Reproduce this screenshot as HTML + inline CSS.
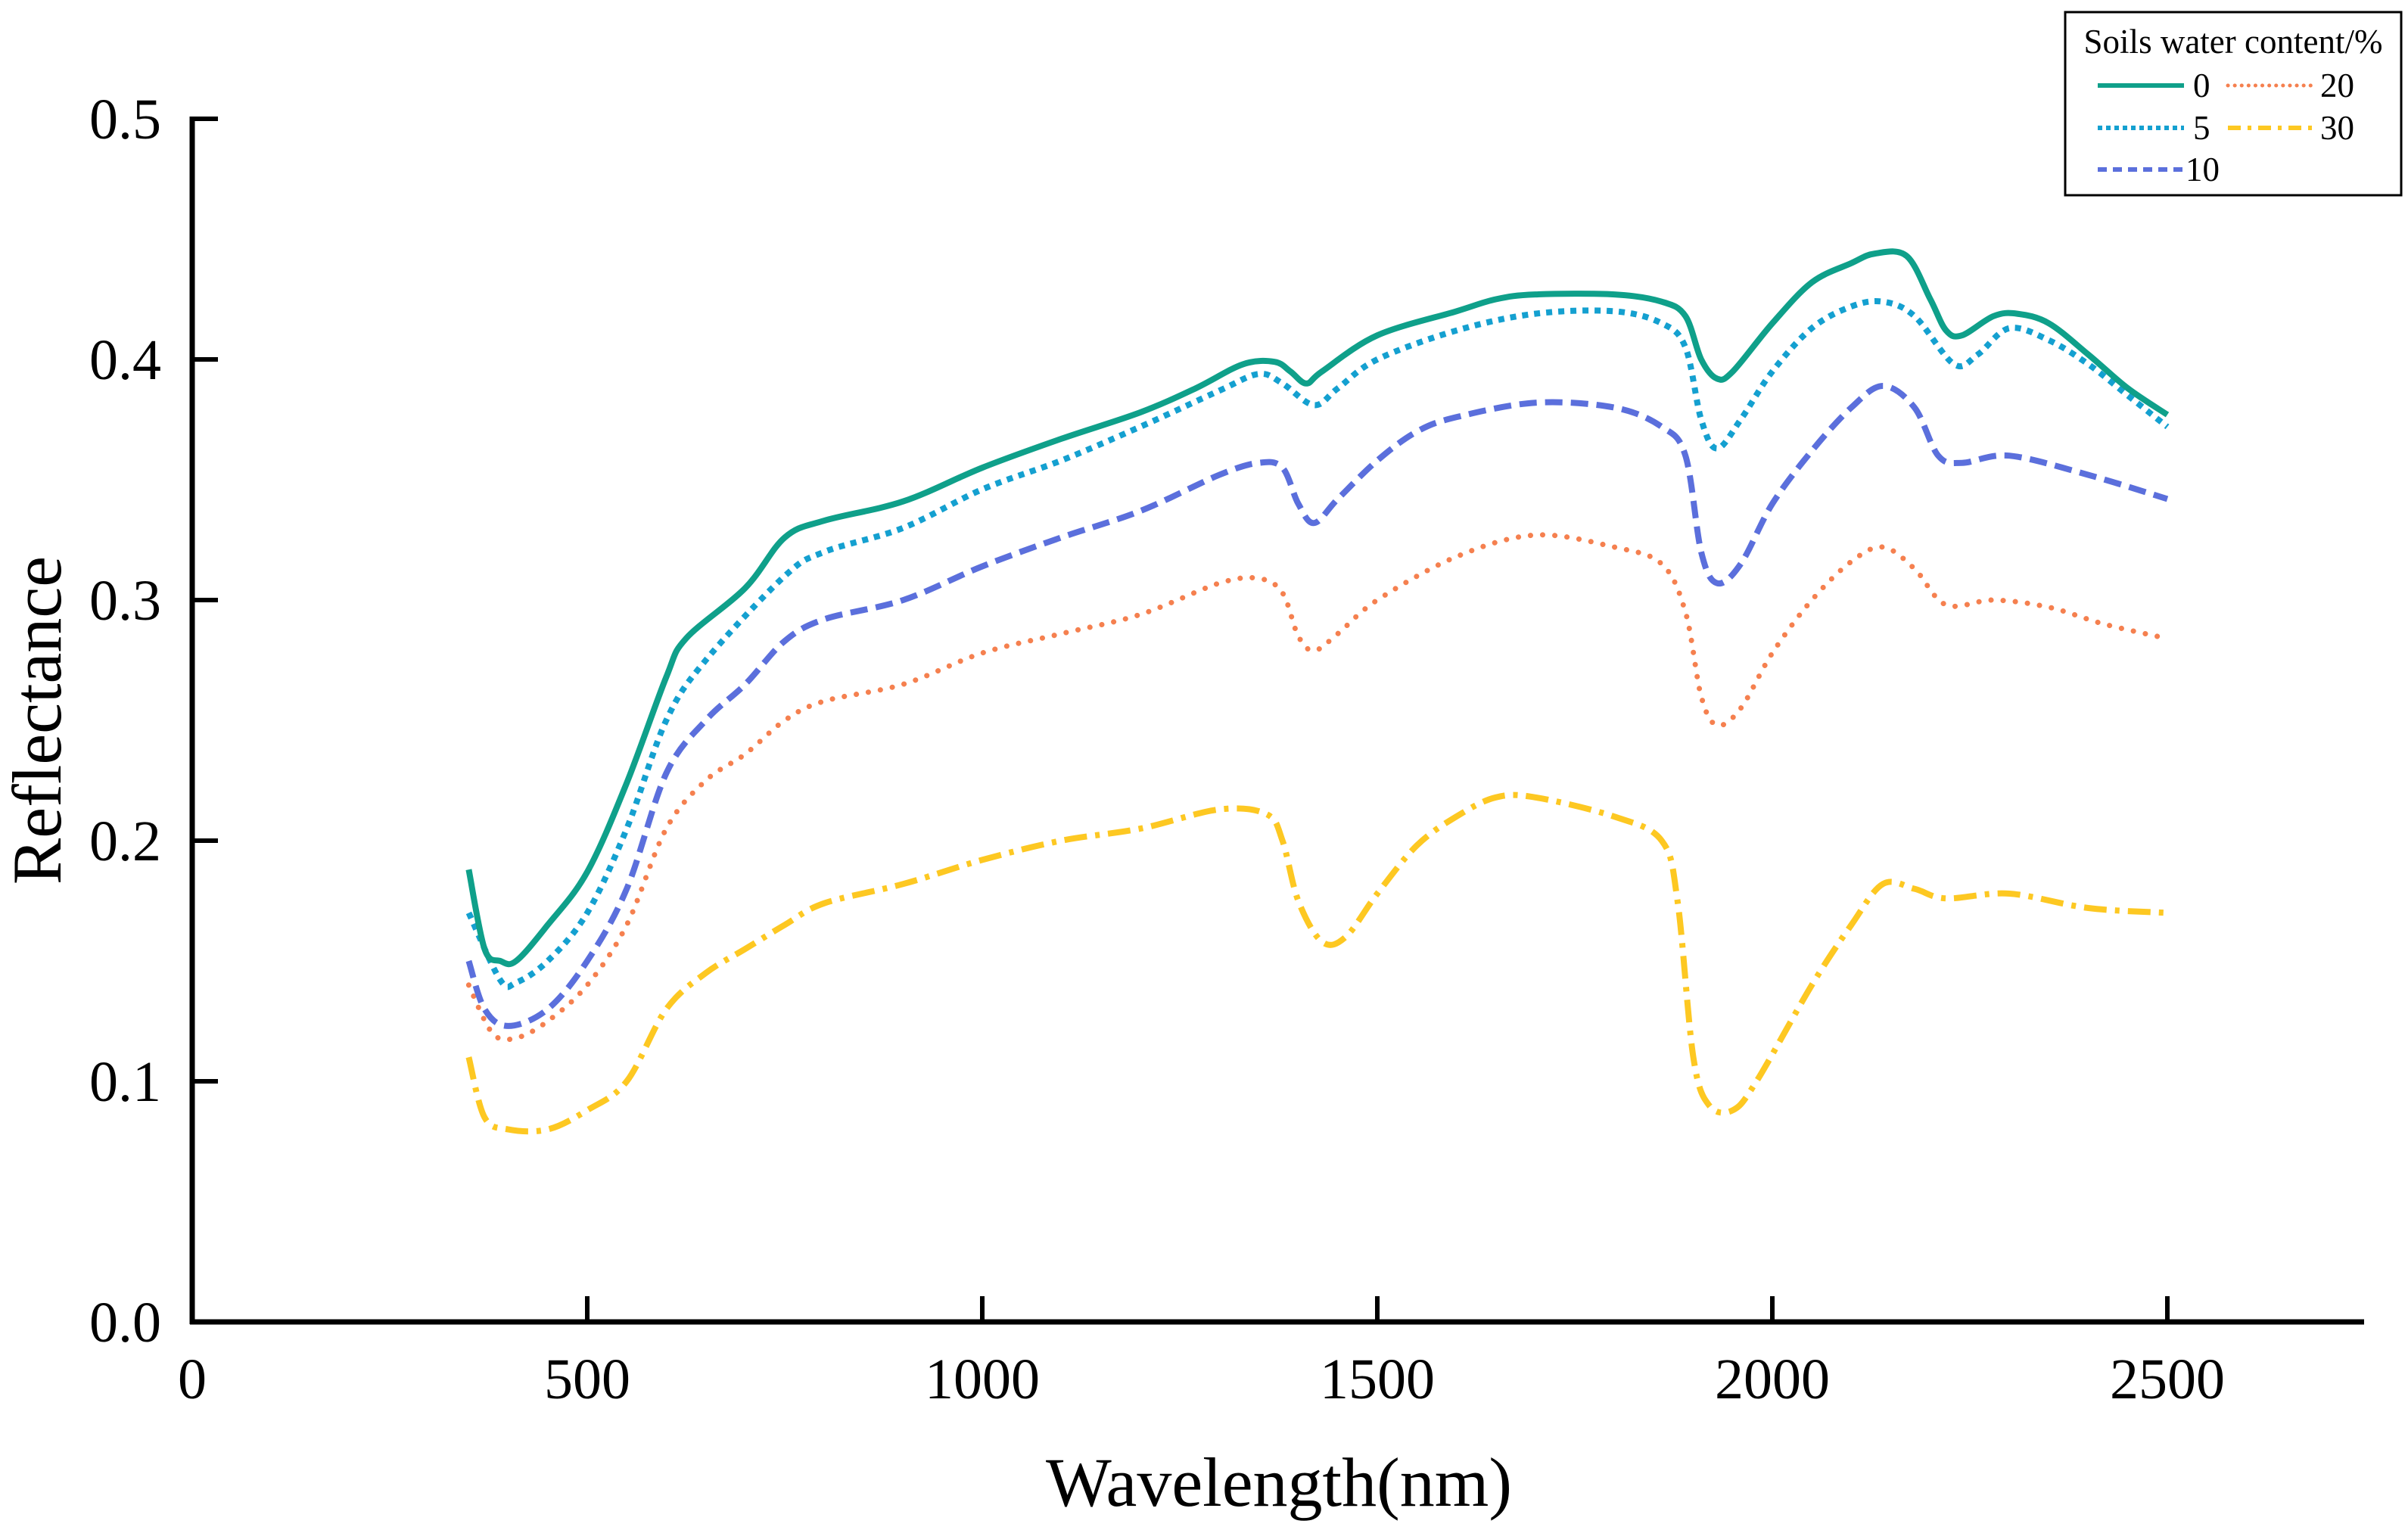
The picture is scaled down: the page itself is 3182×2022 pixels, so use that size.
<!DOCTYPE html>
<html><head><meta charset="utf-8">
<style>
html,body{margin:0;padding:0;background:#fff;}
svg{display:block;font-family:"Liberation Serif",serif;}
</style></head>
<body>
<svg id="chart" width="3182" height="2022" viewBox="0 0 3182 2022" xmlns="http://www.w3.org/2000/svg">
<g id="plot"></g>
<g id="axes"></g>
<text x="1690" y="1990" font-size="92" text-anchor="middle">Wavelength(nm)</text>
<text transform="translate(80,952) rotate(-90)" font-size="92" text-anchor="middle">Reflectance</text>
<g>
<rect x="2729" y="16" width="444" height="242" fill="#fff" stroke="#000" stroke-width="3"/>
<text x="2951" y="70" font-size="45" text-anchor="middle">Soils water content/%</text>
<g><line x1="2772" y1="113" x2="2886" y2="113" stroke="#0fa08a" stroke-width="6"/><text x="2898" y="128" font-size="45">0</text></g>
<g><line x1="2772" y1="169" x2="2886" y2="169" stroke="#14a0d0" stroke-width="6" stroke-dasharray="6,5"/><text x="2898" y="184" font-size="45">5</text></g>
<g><line x1="2772" y1="224" x2="2886" y2="224" stroke="#5b6fdc" stroke-width="6" stroke-dasharray="12,8"/><text x="2888" y="239" font-size="45">10</text></g>
<g><line x1="2944" y1="113" x2="3056" y2="113" stroke="#f5804f" stroke-width="5" stroke-dasharray="0.1,9" stroke-linecap="round"/><text x="3066" y="128" font-size="45">20</text></g>
<g><line x1="2944" y1="169" x2="3056" y2="169" stroke="#fdc822" stroke-width="6" stroke-dasharray="17,9,5,9"/><text x="3066" y="184" font-size="45">30</text></g>
</g>
</svg>
<script>
const xTicks = [0, 500, 1000, 1500, 2000, 2500];
const yTicks = [0.0, 0.1, 0.2, 0.3, 0.4, 0.5];
const yTickLabels = ["0.0", "0.1", "0.2", "0.3", "0.4", "0.5"];
const seriesNames = ["0", "5", "10", "20", "30"];
const wl0 = [350,370,390,410,450,500,550,600,625,700,750,800,900,1000,1100,1200,1270,1330,1370,1390,1410,1430,1500,1600,1650,1700,1800,1860,1890,1910,1930,1950,2000,2050,2100,2130,2170,2200,2220,2240,2280,2310,2350,2400,2450,2500];
const r0 = [0.188,0.155,0.150,0.150,0.165,0.187,0.224,0.268,0.284,0.305,0.326,0.333,0.341,0.355,0.367,0.378,0.388,0.398,0.399,0.395,0.390,0.395,0.410,0.420,0.425,0.427,0.427,0.424,0.418,0.400,0.392,0.395,0.415,0.432,0.440,0.444,0.443,0.425,0.412,0.410,0.418,0.419,0.415,0.402,0.388,0.377];
const wl5 = [350,390,410,450,500,550,600,650,750,800,900,1000,1100,1200,1300,1350,1380,1420,1450,1500,1600,1700,1800,1860,1890,1910,1930,1960,2000,2050,2100,2140,2180,2230,2260,2300,2350,2400,2450,2500];
const r5 = [0.170,0.142,0.141,0.150,0.170,0.205,0.250,0.275,0.310,0.320,0.330,0.346,0.358,0.372,0.387,0.394,0.390,0.381,0.388,0.400,0.412,0.419,0.420,0.415,0.405,0.375,0.363,0.375,0.395,0.413,0.422,0.424,0.418,0.398,0.402,0.413,0.408,0.398,0.385,0.372];
const wl10 = [350,370,400,450,500,550,600,650,700,750,800,900,1000,1100,1200,1300,1350,1380,1400,1420,1450,1500,1550,1600,1700,1800,1860,1890,1910,1930,1960,2000,2050,2100,2140,2180,2210,2240,2300,2400,2500];
const r10 = [0.150,0.130,0.123,0.130,0.150,0.180,0.228,0.250,0.265,0.283,0.292,0.300,0.314,0.326,0.337,0.352,0.357,0.355,0.340,0.332,0.342,0.358,0.370,0.376,0.382,0.380,0.372,0.360,0.320,0.307,0.315,0.340,0.362,0.380,0.389,0.380,0.360,0.357,0.360,0.352,0.342];
const wl20 = [350,380,410,450,500,550,600,650,700,750,800,900,1000,1100,1200,1300,1350,1380,1400,1420,1450,1500,1600,1700,1800,1860,1890,1910,1930,1960,2000,2050,2100,2140,2180,2220,2280,2350,2420,2500];
const r20 = [0.140,0.120,0.118,0.125,0.140,0.165,0.205,0.225,0.236,0.250,0.258,0.265,0.278,0.286,0.294,0.307,0.309,0.303,0.285,0.279,0.286,0.300,0.318,0.327,0.322,0.315,0.295,0.260,0.248,0.255,0.278,0.300,0.316,0.322,0.313,0.298,0.300,0.297,0.290,0.284];
const wl30 = [350,370,400,450,500,550,600,650,700,750,800,900,1000,1100,1200,1300,1360,1380,1400,1430,1460,1500,1550,1600,1650,1700,1800,1860,1880,1900,1920,1950,1980,2050,2100,2140,2180,2220,2300,2400,2500];
const r30 = [0.110,0.085,0.080,0.080,0.088,0.100,0.130,0.145,0.155,0.165,0.174,0.182,0.192,0.200,0.205,0.213,0.211,0.200,0.175,0.158,0.160,0.178,0.198,0.210,0.218,0.218,0.210,0.200,0.175,0.110,0.090,0.088,0.100,0.140,0.165,0.182,0.180,0.176,0.178,0.172,0.170];

const X0 = 254, XPX = 522/500, Y0 = 1747, YPX = 318/0.1;
function sx(v){ return X0 + v*XPX; }
function sy(v){ return Y0 - v*YPX; }
const NS = "http://www.w3.org/2000/svg";
function mk(tag, attrs){ const e=document.createElementNS(NS,tag); for(const k in attrs) e.setAttribute(k, attrs[k]); return e; }

const styles = [
 {c:"#0fa08a", d:"none", cap:"butt"},
 {c:"#14a0d0", d:"8,8", cap:"butt"},
 {c:"#5b6fdc", d:"23,11", cap:"butt"},
 {c:"#f5804f", d:"0.1,16", cap:"round"},
 {c:"#fdc822", d:"30,11,6,11", cap:"butt"}
];
const xs = [wl0, wl5, wl10, wl20, wl30];
const ys = [r0, r5, r10, r20, r30];
const plot = document.getElementById('plot');
function smoothPath(pts){
  let d = "M" + pts[0][0].toFixed(1) + "," + pts[0][1].toFixed(1);
  for(let i=0;i<pts.length-1;i++){
    const p0=pts[Math.max(0,i-1)], p1=pts[i], p2=pts[i+1], p3=pts[Math.min(pts.length-1,i+2)];
    const c1x=p1[0]+(p2[0]-p0[0])/6, c1y=p1[1]+(p2[1]-p0[1])/6;
    const c2x=p2[0]-(p3[0]-p1[0])/6, c2y=p2[1]-(p3[1]-p1[1])/6;
    d += " C"+c1x.toFixed(1)+","+c1y.toFixed(1)+" "+c2x.toFixed(1)+","+c2y.toFixed(1)+" "+p2[0].toFixed(1)+","+p2[1].toFixed(1);
  }
  return d;
}
for(let s=4;s>=0;s--){
  const pts = xs[s].map((w,i)=>[sx(w), sy(ys[s][i])]);
  const p = mk('path', {d: smoothPath(pts), fill:"none", stroke:styles[s].c, "stroke-width": s===3?7:8, "stroke-linecap":styles[s].cap, "stroke-linejoin":"round"});
  if(styles[s].d!=="none") p.setAttribute('stroke-dasharray', styles[s].d);
  
  
  plot.appendChild(p);
}

const axes = document.getElementById('axes');
const ya = mk('line',{x1:X0,y1:sy(0.5)-3,x2:X0,y2:Y0+3,stroke:"#000","stroke-width":7});


axes.appendChild(ya);
const xa = mk('line',{x1:X0-3,y1:Y0,x2:3124,y2:Y0,stroke:"#000","stroke-width":7});


axes.appendChild(xa);
yTicks.forEach((v,i)=>{
  const y = sy(v);
  const t = mk('line',{x1:X0,y1:y,x2:X0+34,y2:y,stroke:"#000","stroke-width":6});
  
  
  axes.appendChild(t);
  const l = mk('text',{x:213,y:y+26,"font-size":76,"text-anchor":"end"});
  l.textContent = yTickLabels[i];
  
  
  axes.appendChild(l);
});
xTicks.forEach(v=>{
  const x = sx(v);
  if(v>0){
    const t = mk('line',{x1:x,y1:Y0,x2:x,y2:Y0-34,stroke:"#000","stroke-width":6});
    
    
    axes.appendChild(t);
  }
  const l = mk('text',{x:x,y:1848,"font-size":76,"text-anchor":"middle"});
  l.textContent = String(v);
  
  
  axes.appendChild(l);
});
</script>
</body></html>
